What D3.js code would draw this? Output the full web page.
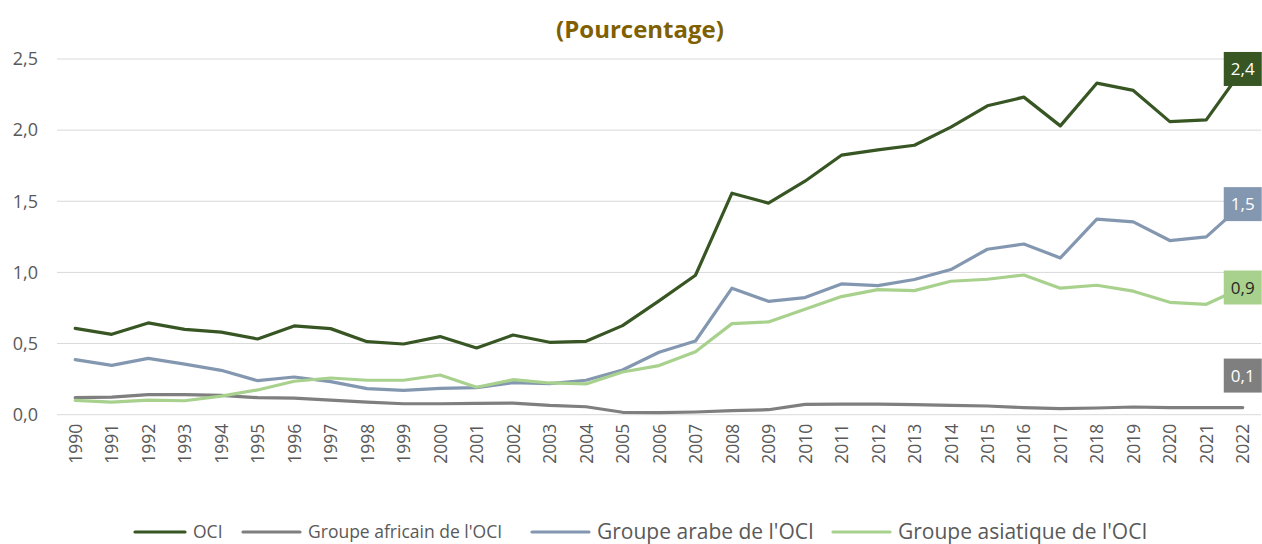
<!DOCTYPE html>
<html>
<head>
<meta charset="utf-8">
<title>Pourcentage OCI</title>
<script src="https://d3js.org/d3.v7.min.js"></script>
<style>
  body { margin: 0; background: #fff; }
  svg text { font-family: "Open Sans", "Noto Sans", sans-serif; }
</style>
</head>
<body>
<div id="chart"></div>
<script>
// data
var years = d3.range(1990, 2023).map(String);
var oci = [0.607, 0.565, 0.645, 0.60, 0.58, 0.532, 0.624, 0.605, 0.513, 0.497,
           0.549, 0.469, 0.56, 0.509, 0.516, 0.626, 0.80, 0.98, 1.557, 1.487,
           1.641, 1.824, 1.861, 1.894, 2.021, 2.171, 2.232, 2.03, 2.33, 2.279,
           2.06, 2.072, 2.43];
var africain = [0.12, 0.124, 0.141, 0.141, 0.136, 0.12, 0.117, 0.103, 0.089, 0.077,
                0.077, 0.08, 0.082, 0.066, 0.056, 0.017, 0.015, 0.019, 0.028, 0.035,
                0.073, 0.075, 0.075, 0.071, 0.066, 0.061, 0.05, 0.043, 0.047, 0.054,
                0.05, 0.05, 0.05];
var arabe = [0.387, 0.347, 0.396, 0.356, 0.312, 0.239, 0.265, 0.232, 0.183, 0.171,
             0.185, 0.19, 0.225, 0.218, 0.242, 0.314, 0.439, 0.518, 0.889, 0.797,
             0.823, 0.919, 0.907, 0.95, 1.02, 1.163, 1.2, 1.102, 1.374, 1.355,
             1.224, 1.25, 1.48];
var asiatique = [0.101, 0.089, 0.103, 0.098, 0.131, 0.174, 0.235, 0.258, 0.242, 0.242,
                 0.279, 0.193, 0.246, 0.223, 0.216, 0.30, 0.345, 0.443, 0.64, 0.652,
                 0.741, 0.83, 0.879, 0.872, 0.938, 0.952, 0.982, 0.889, 0.91, 0.868,
                 0.79, 0.776, 0.894];
var yTicks = [0, 0.5, 1.0, 1.5, 2.0, 2.5];

var series = [
  { name: "OCI", values: oci, color: "#375623", text: "#fff", legendSize: 17.5, labelShift: 0 },
  { name: "Groupe africain de l'OCI", values: africain, color: "#7f7f7f", text: "#fff", legendSize: 17.5, labelShift: -0.225 },
  { name: "Groupe arabe de l'OCI", values: arabe, color: "#8497b0", text: "#fff", legendSize: 21, labelShift: 0 },
  { name: "Groupe asiatique de l'OCI", values: asiatique, color: "#a9d18e", text: "#262626", legendSize: 21, labelShift: 0 }
];

var width = 1262, height = 544;
var margin = { top: 59, right: 1, bottom: 129, left: 57 };

var svg = d3.select("#chart").append("svg")
  .attr("width", width)
  .attr("height", height);

var x = d3.scalePoint()
  .domain(years)
  .range([margin.left, width - margin.right])
  .padding(0.5);

var y = d3.scaleLinear()
  .domain([0, 2.5])
  .range([height - margin.bottom - 0.3, margin.top]);

var fmt = function(v) { return d3.format(".1f")(v).replace(".", ","); };

// title
svg.append("text")
  .attr("x", 640)
  .attr("y", 38)
  .attr("text-anchor", "middle")
  .attr("font-size", 24)
  .attr("font-weight", "bold")
  .attr("fill", "#7f6000")
  .text("(Pourcentage)");

// gridlines
svg.append("g")
  .selectAll("line")
  .data(yTicks)
  .enter().append("line")
  .attr("x1", margin.left)
  .attr("x2", width - margin.right)
  .attr("y1", function(d) { return y(d); })
  .attr("y2", function(d) { return y(d); })
  .attr("stroke", "#d9d9d9")
  .attr("stroke-width", 1);

// y axis labels
var yAxis = svg.append("g")
  .attr("transform", "translate(" + margin.left + ",0)")
  .call(d3.axisLeft(y).tickValues(yTicks).tickFormat(fmt).tickSize(0).tickPadding(19));
yAxis.select(".domain").remove();
yAxis.selectAll("text")
  .attr("font-size", 18)
  .attr("fill", "#595959")
  .attr("font-family", "'Open Sans', sans-serif");

// x axis labels, rotated
var xAxis = svg.append("g")
  .attr("transform", "translate(0," + y(0) + ")")
  .call(d3.axisBottom(x).tickSize(0));
xAxis.select(".domain").remove();
xAxis.selectAll("text")
  .attr("font-size", 17.5)
  .attr("fill", "#595959")
  .attr("font-family", "'Open Sans', sans-serif")
  .attr("transform", "rotate(-90)")
  .attr("text-anchor", "end")
  .attr("x", -9)
  .attr("y", 0)
  .attr("dy", "0.35em");

// lines
var line = d3.line()
  .x(function(d, i) { return x(years[i]); })
  .y(function(d) { return y(d); });

svg.append("g")
  .selectAll("path")
  .data(series)
  .enter().append("path")
  .attr("d", function(s) { return line(s.values); })
  .attr("fill", "none")
  .attr("stroke", function(s) { return s.color; })
  .attr("stroke-width", 3.2)
  .attr("stroke-linejoin", "round")
  .attr("stroke-linecap", "round");

// end labels
var last = years.length - 1;
var labels = svg.append("g")
  .selectAll("g")
  .data(series)
  .enter().append("g")
  .attr("transform", function(s) {
    return "translate(" + x(years[last]) + "," + y(s.values[last] - s.labelShift) + ")";
  });
labels.append("rect")
  .attr("x", -19)
  .attr("y", -17)
  .attr("width", 38)
  .attr("height", 34)
  .attr("fill", function(s) { return s.color; });
labels.append("text")
  .attr("text-anchor", "middle")
  .attr("dy", "0.36em")
  .attr("font-size", 17)
  .attr("fill", function(s) { return s.text; })
  .text(function(s) { return fmt(s.values[last]); });

// legend
var legendX = [135, 243, 532, 833];
var legend = svg.append("g")
  .selectAll("g")
  .data(series)
  .enter().append("g")
  .attr("transform", function(s, i) { return "translate(" + legendX[i] + ",532)"; });
legend.append("line")
  .attr("x1", 0)
  .attr("x2", function(s, i) { return i === 0 ? 50 : 57; })
  .attr("stroke", function(s) { return s.color; })
  .attr("stroke-width", 3.2)
  .attr("stroke-linecap", "round");
legend.append("text")
  .attr("x", function(s, i) { return i === 0 ? 58 : 65; })
  .attr("dy", "0.35em")
  .attr("font-size", function(s) { return s.legendSize; })
  .attr("fill", "#595959")
  .text(function(s) { return s.name; });
</script>
</body>
</html>
